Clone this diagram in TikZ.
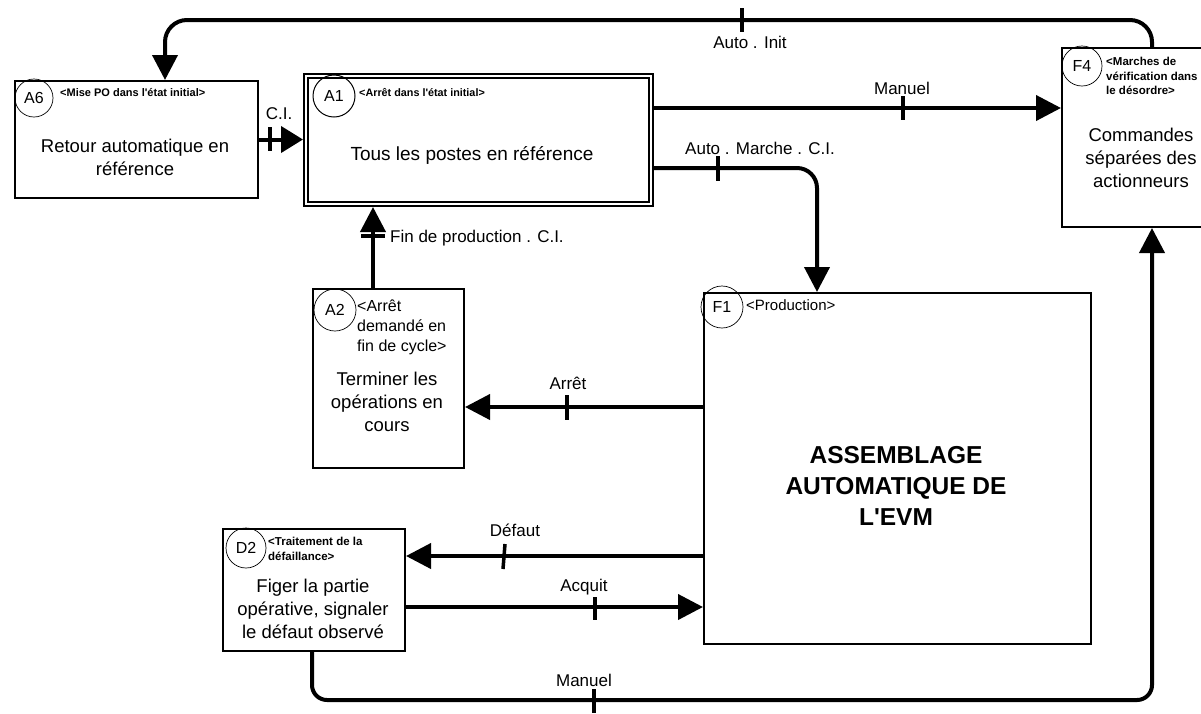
\documentclass[tikz,border=0pt]{standalone}
\usepackage{fontspec}
\setmainfont{Liberation Sans}
\usetikzlibrary{arrows.meta,calc}
\begin{document}
\begin{tikzpicture}[x=1pt,y=-1pt,
  box/.style={draw,line width=2pt,inner sep=0pt,anchor=north west},
  circ/.style={draw,circle,line width=0.7pt,inner sep=0pt,font=\fontsize{16}{16}\selectfont},
  tinylab/.style={font=\fontsize{11.5}{14.5}\selectfont\bfseries,anchor=north west,inner sep=0pt,align=left},
  mainlab/.style={font=\fontsize{18.5}{23}\selectfont,align=center,inner sep=0pt},
  clab/.style={font=\fontsize{17}{17}\selectfont,inner sep=0pt},
  conn/.style={line width=4pt,-{Triangle[length=25pt,width=25pt]}},
  tickmark/.style={line width=3.5pt},
]
\clip (0,0) rectangle (1201,713);
\fill[white] (0,0) rectangle (1201,713);

% boxes
\node[box,minimum width=243pt,minimum height=117pt] (A6) at (14,80) {};
\node[box,minimum width=349pt,minimum height=132pt] (A1) at (303,73) {};
\draw[line width=1.5pt] ($(A1.north west)+(5,5)$) rectangle ($(A1.south east)+(-5,-5)$);
\node[box,minimum width=151pt,minimum height=179pt] (A2) at (312,288) {};
\node[box,minimum width=387pt,minimum height=351pt] (F1) at (703,292) {};
\node[box,minimum width=182pt,minimum height=122pt] (D2) at (222,528) {};
\node[box,minimum width=160pt,minimum height=179pt] (F4) at (1061,47) {};

% circles
\node[circ,minimum size=38pt] (A6c) at (34,98) {A6};
\node[circ,minimum size=42pt,line width=1pt] (A1c) at (334,96) {A1};
\node[circ,minimum size=42pt] (A2c) at (335,310) {A2};
\node[circ,minimum size=42pt] (F1c) at (722,307) {F1};
\node[circ,minimum size=40pt] (F4c) at (1082,66) {F4};
\node[circ,minimum size=40pt] (D2c) at (246,548) {D2};

% small labels
\node[tinylab,font=\fontsize{11}{14}\selectfont\bfseries] (A6l) at (60,88) {<Mise PO dans l\textquotesingle état initial>};
\node[tinylab,font=\fontsize{10.8}{14}\selectfont\bfseries] (A1l) at (359,88) {<Arrêt dans l\textquotesingle état initial>};
\node[tinylab] (F4l) at (1106,57) {<Marches de\\vérification dans\\le désordre>};
\node[tinylab] (D2l) at (268,537) {<Traitement de la\\défaillance>};
\node[tinylab,font=\fontsize{16}{20}\selectfont] (A2l) at (357,300) {<Arrêt\\demandé en\\fin de cycle>};
\node[anchor=west,inner sep=0pt,font=\fontsize{15}{15}\selectfont] (F1l) at (746,305) {<Production>};

% main texts
\node[mainlab] (A6t) at (135,157) {Retour automatique en\\référence};
\node[mainlab,font=\fontsize{19}{23}\selectfont] (A1t) at (472,155) {Tous les postes en référence};
\node[mainlab] (A2t) at (387,402) {Terminer les\\opérations en\\cours};
\node[mainlab] (D2t) at (313,609) {Figer la partie\\opérative, signaler\\le défaut observé};
\node[mainlab] (F4t) at (1141,158) {Commandes\\séparées des\\actionneurs};
\node[mainlab,font=\fontsize{24.5}{31}\selectfont\bfseries] (F1t) at (896,486) {ASSEMBLAGE\\AUTOMATIQUE DE\\L\textquotesingle EVM};

% connectors
\draw[conn,rounded corners=22pt] (F4.north -| 1152,0) -- (1152,20) -| (A6.north -| 165,0);
\draw[tickmark] (742,8) -- (742,32);
\node[clab] (lInit) at (750,42) {Auto . Init};

\draw[conn,-{Triangle[length=22pt,width=26pt]}] (A6.east) -- (A6.east -| A1.west);
\draw[tickmark] (270,127) -- (270,151);
\node[clab] (lCI) at (279,114) {C.I.};

\draw[conn] (A1.east |- 0,108) -- (F4.west |- 0,108);
\draw[tickmark] (903,96) -- (903,120);
\node[clab] (lMan1) at (902,88) {Manuel};

\draw[conn,rounded corners=20pt] (A1.east |- 0,168) -| (F1.north -| 817,0);
\draw[tickmark] (718,156) -- (718,181);
\node[clab] (lAMC) at (760,148) {Auto . Marche . C.I.};

\draw[conn] (A2.north -| 373,0) -- (A1.south -| 373,0);
\draw[tickmark] (361,236) -- (385,236);
\node[clab,anchor=west] (lFin) at (390,238) {Fin de production . C.I.};

\draw[conn] (F1.west |- 0,407) -- (A2.east |- 0,407);
\draw[tickmark] (567,395) -- (567,420);
\node[clab] (lArr) at (568,383) {Arrêt};

\draw[conn] (F1.west |- 0,556) -- (D2.east |- 0,556);
\draw[tickmark] (505,544) -- (503,569);
\node[clab] (lDef) at (515,530) {Défaut};

\draw[conn] (D2.east |- 0,607) -- (F1.west |- 0,607);
\draw[tickmark] (595,597) -- (595,620);
\node[clab] (lAcq) at (584,587) {Acquit};

\draw[conn,rounded corners=15pt] (D2.south -| 312,0) |- (1152,700) -- (F4.south -| 1152,0);
\draw[tickmark] (594,689) -- (594,713);
\node[clab] (lMan2) at (584,680) {Manuel};
\end{tikzpicture}
\end{document}
